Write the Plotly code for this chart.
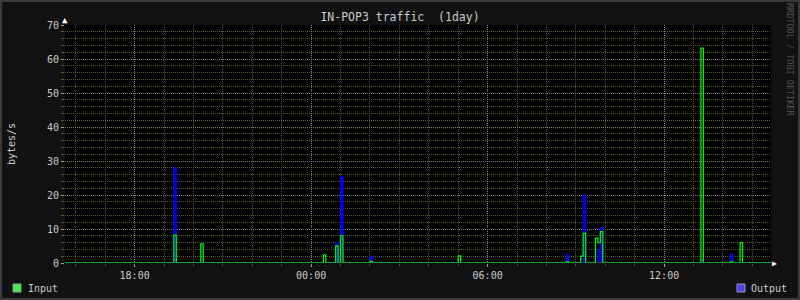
import plotly.graph_objects as go

# ---------------- data ----------------
input_times = [
    "2024-05-01 15:38", "2024-05-01 19:20", "2024-05-01 19:25",
    "2024-05-01 20:15", "2024-05-01 20:20",
    "2024-05-02 00:25", "2024-05-02 00:30",
    "2024-05-02 00:50", "2024-05-02 00:55",
    "2024-05-02 01:00", "2024-05-02 01:05",
    "2024-05-02 02:00", "2024-05-02 02:05",
    "2024-05-02 05:00", "2024-05-02 05:05",
    "2024-05-02 08:40", "2024-05-02 08:45",
    "2024-05-02 09:10", "2024-05-02 09:15", "2024-05-02 09:20",
    "2024-05-02 09:40", "2024-05-02 09:45", "2024-05-02 09:50", "2024-05-02 09:55",
    "2024-05-02 13:15", "2024-05-02 13:20",
    "2024-05-02 14:15", "2024-05-02 14:20",
    "2024-05-02 14:35", "2024-05-02 14:40",
    "2024-05-02 15:38",
]
input_values = [
    0, 8.2, 0,
    5.6, 0,
    2.4, 0,
    5.0, 0,
    8.0, 0,
    0.5, 0,
    2.1, 0,
    0.3, 0,
    2.0, 8.7, 0,
    7.3, 6.0, 9.2, 0,
    63.2, 0,
    0.3, 0,
    6.0, 0,
    0,
]

output_times = [
    "2024-05-01 15:38", "2024-05-01 19:20", "2024-05-01 19:25",
    "2024-05-02 00:50", "2024-05-02 00:55",
    "2024-05-02 01:00", "2024-05-02 01:05",
    "2024-05-02 02:00", "2024-05-02 02:05",
    "2024-05-02 08:40", "2024-05-02 08:45",
    "2024-05-02 09:15", "2024-05-02 09:20",
    "2024-05-02 09:45", "2024-05-02 09:50", "2024-05-02 09:55",
    "2024-05-02 13:15", "2024-05-02 13:20",
    "2024-05-02 14:15", "2024-05-02 14:20",
    "2024-05-02 15:38",
]
output_values = [
    0, 28.1, 0,
    6.0, 0,
    25.4, 0,
    2.0, 0,
    2.5, 0,
    20.0, 0,
    3.8, 10.4, 0,
    1.0, 0,
    2.6, 0,
    0,
]

x_range = ["2024-05-01 15:38", "2024-05-02 15:38"]
x_tick0 = "2024-05-01 18:00"
y_range = [0, 70]

title_text = "IN-POP3 traffic  (1day)"
y_label = "bytes/s"
side_text = "RRDTOOL / TOBI OETIKER"
legend_labels = ["Input", "Output"]

# ---------------- layout helpers ----------------
W, H = 800, 300
L, R, T, B = 65, 771, 25, 263


def px2x(px):
    return (px - L) / (R - L)


def py2y(py):
    return (B - py) / (B - T)


FONT = "DejaVu Sans Mono"
TXT = "#cccccc"
GREEN = "#00ee00"
BLUE = "#0000ff"

fig = go.Figure()
fig.add_trace(go.Scatter(
    x=output_times, y=output_values, name=legend_labels[1], mode="lines",
    line=dict(color=BLUE, width=1, shape="hv"), fill="tozeroy",
    fillcolor="rgba(0,0,230,0.9)", hoverinfo="skip",
))
fig.add_trace(go.Scatter(
    x=input_times, y=input_values, name=legend_labels[0], mode="lines",
    line=dict(color=GREEN, width=1.3, shape="hv"), hoverinfo="skip",
))

fig.update_layout(
    width=W, height=H,
    margin=dict(l=L, r=W - R, t=T, b=H - B, pad=0),
    paper_bgcolor="#111111",
    plot_bgcolor="#000000",
    showlegend=False,
    font=dict(family=FONT, size=10, color=TXT),
    title=dict(text=title_text, x=0.5, xref="container", xanchor="center",
               y=1 - 17 / H, yref="container", yanchor="middle",
               font=dict(family=FONT, size=11.5, color=TXT)),
    xaxis=dict(
        type="date", range=x_range, tick0=x_tick0, dtick=6 * 3600000,
        tickformat="%H:%M", showgrid=True, gridcolor="#808080",
        griddash="1px,1px", gridwidth=1,
        ticks="outside", ticklen=3, tickcolor="#999999",
        minor=dict(dtick=3600000, tick0=x_tick0, showgrid=True,
                   gridcolor="#5a5a28", griddash="1px,1px",
                   ticks="outside", ticklen=2, tickcolor="#5a5a28"),
        showline=False, zeroline=False, fixedrange=True,
        tickfont=dict(family=FONT, size=10, color=TXT),
    ),
    yaxis=dict(
        range=y_range, dtick=10, tick0=0, showgrid=True,
        gridcolor="#808080", griddash="1px,1px", gridwidth=1,
        ticks="outside", ticklen=3, tickcolor="#999999",
        minor=dict(dtick=2, showgrid=True, gridcolor="#5a5a28",
                   griddash="1px,1px", ticks="outside", ticklen=3,
                   tickcolor="#5a5a28"),
        showline=False, zeroline=False, fixedrange=True,
        tickfont=dict(family=FONT, size=10, color=TXT),
    ),
)

# frame border around the image
fig.add_shape(type="rect", xref="paper", yref="paper",
              x0=px2x(1), x1=px2x(W - 1), y0=py2y(H - 1), y1=py2y(1),
              line=dict(color="#3a3a3a", width=2), fillcolor="rgba(0,0,0,0)",
              layer="below")
# baseline at zero
fig.add_shape(type="line", xref="paper", yref="y", x0=0, x1=1, y0=0, y1=0,
              line=dict(color="#2a8a2a", width=1))


def note(px, py, text, size, color, angle=0, xanchor="center"):
    fig.add_annotation(xref="paper", yref="paper", x=px2x(px), y=py2y(py),
                       xanchor=xanchor, yanchor="middle", text=text,
                       textangle=angle, showarrow=False,
                       font=dict(family=FONT, size=size, color=color))


# arrows
note(65, 20, "▲", 9, "#ffffff")
note(774, 263, "▶", 8, "#ffffff")
# y-axis label
note(11, 144, y_label, 10, TXT, angle=-90)
# side watermark
note(790, 59, side_text, 8.5, "#555555", angle=90)

# legend
fig.add_shape(type="rect", xref="paper", yref="paper",
              x0=px2x(13), x1=px2x(21), y0=py2y(292), y1=py2y(284),
              fillcolor="#44ee44", line=dict(color="#999999", width=1))
note(26, 288, legend_labels[0], 10, TXT, xanchor="left")
fig.add_shape(type="rect", xref="paper", yref="paper",
              x0=px2x(737), x1=px2x(745), y0=py2y(292), y1=py2y(284),
              fillcolor="#4444ee", line=dict(color="#999999", width=1))
note(749, 288, legend_labels[1], 10, TXT, xanchor="left")

fig.write_html("out.html")
